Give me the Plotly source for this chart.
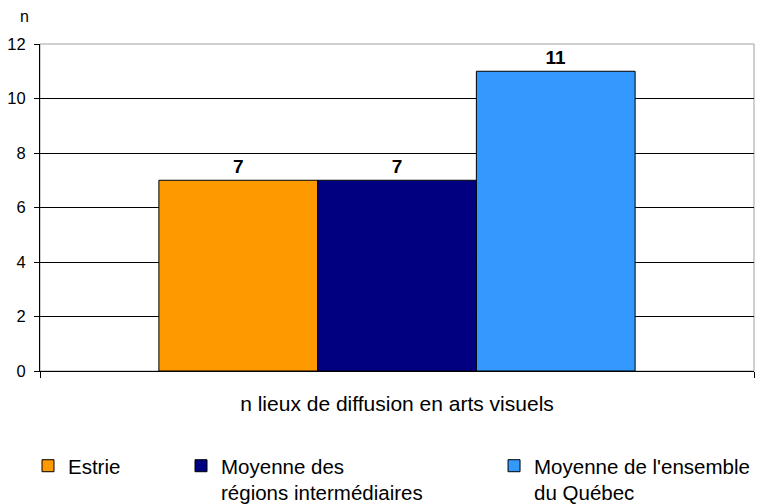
import plotly.graph_objects as go

category = ["n lieux de diffusion en arts visuels"]
series_names = ["Estrie", "Moyenne des<br>régions intermédiaires", "Moyenne de l'ensemble<br>du Québec"]
values_estrie = [7]
values_intermediaires = [7]
values_quebec = [11]
colors = ["#FF9900", "#000080", "#3399FF"]
y_ticks = [0, 2, 4, 6, 8, 10, 12]

FONT = "Liberation Sans, Arial, sans-serif"

fig = go.Figure()
series_values = [values_estrie, values_intermediaires, values_quebec]
legends = ["legend", "legend2", "legend3"]
for name, vals, col, lg in zip(series_names, series_values, colors, legends):
    fig.add_trace(go.Bar(
        x=category, y=vals, name=name,
        marker=dict(color=col, line=dict(color="#000000", width=1)),
        text=[str(v) for v in vals], textposition="outside",
        textfont=dict(family=FONT, size=19, color="#000000", weight="bold"),
        cliponaxis=False, legend=lg,
    ))

legend_common = dict(orientation="v", yanchor="top", y=-0.229, xanchor="left",
                     font=dict(family=FONT, size=20.5, color="#000000"),
                     bgcolor="rgba(0,0,0,0)", borderwidth=0, valign="top")

# the page adds an 8px body margin, so the figure is 8px smaller and margins shifted
fig.update_layout(
    width=757, height=496,
    margin=dict(l=32, r=11, t=36, b=133, autoexpand=False),
    paper_bgcolor="white", plot_bgcolor="white",
    barmode="group", bargap=0.333, bargroupgap=0,
    font=dict(family=FONT, color="#000000"),
    showlegend=True,
    legend=dict(x=-0.0168, **legend_common),
    legend2=dict(x=0.1975, **legend_common),
    legend3=dict(x=0.6359, **legend_common),
    xaxis=dict(
        type="category", range=[-0.5, 0.5],
        showline=True, linecolor="#000000", linewidth=1,
        ticks="outside", ticklen=6, tickcolor="#000000", tickson="boundaries",
        tickfont=dict(family=FONT, size=21, color="#000000"),
        ticklabelstandoff=14, showgrid=False, automargin=False,
    ),
    yaxis=dict(
        range=[0, 12], tickvals=y_ticks,
        showline=True, linecolor="#000000", linewidth=1,
        ticks="outside", ticklen=5, tickcolor="#000000",
        tickfont=dict(family=FONT, size=16.5, color="#000000"),
        ticklabelstandoff=5, automargin=False,
        showgrid=True, gridcolor="#000000", gridwidth=1, zeroline=False,
    ),
    shapes=[dict(type="rect", xref="paper", yref="paper", x0=0, x1=1, y0=0, y1=1,
                 line=dict(color="#A0A0A0", width=1), layer="below")],
    annotations=[dict(text="n", xref="paper", yref="paper", x=-0.0224, y=1.083,
                      xanchor="center", yanchor="middle", showarrow=False,
                      font=dict(family=FONT, size=16, color="#000000"))],
)

fig.write_html("out.html")
